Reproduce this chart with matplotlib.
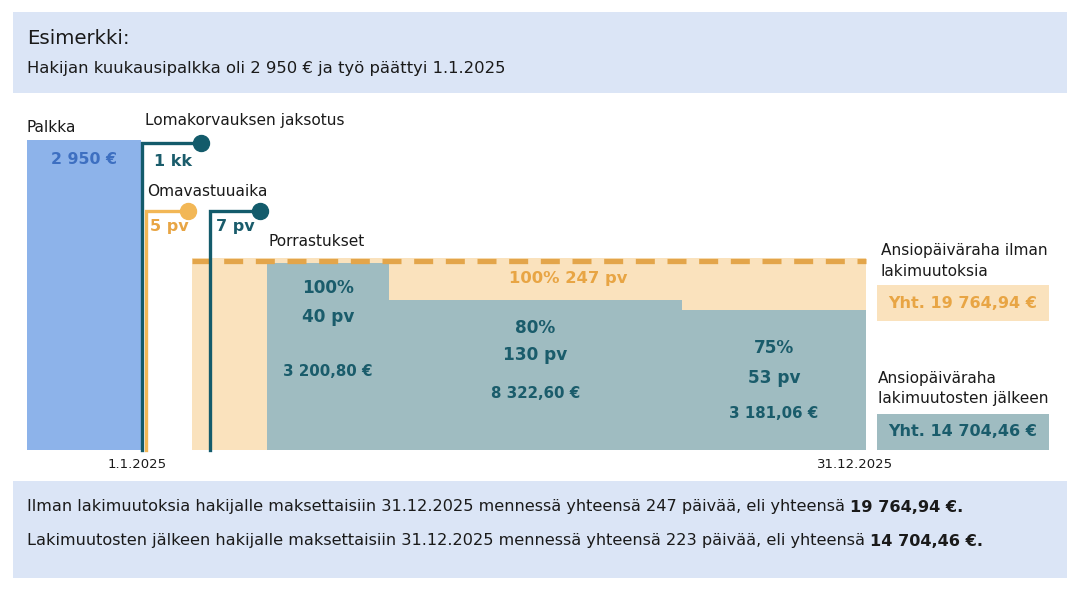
import matplotlib
matplotlib.use("Agg")
import matplotlib.pyplot as plt
from matplotlib.patches import Rectangle

# ---------------- data ----------------
title = "Esimerkki:"
subtitle = "Hakijan kuukausipalkka oli 2 950 € ja työ päättyi 1.1.2025"
salary = 2950
holiday_label = "1 kk"
waiting_days = 5
extra_days = 7
old_pct = 100
old_days = 247
step_pct = [100, 80, 75]
step_days = [40, 130, 53]
step_eur = [3200.80, 8322.60, 3181.06]
total_old = 19764.94
total_new = 14704.46
new_days = 223
dates = ["1.1.2025", "31.12.2025"]

def fi(v, dec=2):
    s = f"{v:,.{dec}f}"
    return s.replace(",", " ").replace(".", ",") + " €"

# ---------------- style ----------------
FONT = "DejaVu Sans"
plt.rcParams["font.family"] = [FONT]
BOX = "#dbe5f6"
BLUE_BAR = "#8db3ea"
BLUE_TXT = "#3d6fc1"
TEAL = "#135b6b"
TEAL_TXT = "#1a5c6b"
TEAL_FILL = "#9fbcc1"
ORANGE = "#f2b756"
ORANGE_TXT = "#e8a544"
ORANGE_FILL = "#fae2bd"
DASH = "#e3a54a"
BLACK = "#1a1a1a"
LBL = 11.1

fig = plt.figure(figsize=(10.8, 5.92), dpi=100)
ax = fig.add_axes([0, 0, 1, 1])
ax.set_xlim(0, 1080)
ax.set_ylim(592, 0)
ax.axis("off")

# header / footer boxes
ax.add_patch(Rectangle((13, 12), 1054, 81, color=BOX, lw=0))
ax.add_patch(Rectangle((13, 481), 1054, 97, color=BOX, lw=0))
ax.text(27, 39, title, fontsize=14.2, color=BLACK, va="center", fontweight="medium")
ax.text(27, 68, subtitle, fontsize=11.8, color=BLACK, va="center")

base = 450
scale = 1.87  # px per percent

# salary bar
ax.bar(27, 310, width=114, bottom=base - 310, align="edge", color=BLUE_BAR, lw=0)
ax.text(27, 127, "Palkka", fontsize=LBL, color=BLACK, va="center", fontweight="medium")
ax.text(84, 160, fi(salary, 0), fontsize=11.3, color=BLUE_TXT, va="center", ha="center", fontweight="bold")

def bracket(x0, x1, y, color, label, lx, ly, lcolor):
    ax.plot([x0, x0, x1], [base, y, y], color=color, lw=2.4, solid_joinstyle="miter", zorder=5)
    ax.plot([x1], [y], "o", color=color, ms=11.5, zorder=6)
    ax.text(lx, ly, label, fontsize=11.5, color=lcolor, va="center", fontweight="bold")

ax.text(145, 121, "Lomakorvauksen jaksotus", fontsize=LBL, color=BLACK, va="center", fontweight="medium")
ax.text(147, 192, "Omavastuuaika", fontsize=LBL, color=BLACK, va="center", fontweight="medium")

# old (no law change) area
old_left, old_right = 192, 866
old_h = old_pct * scale + 5
ax.bar(old_left, old_h, width=old_right - old_left, bottom=base - old_h, align="edge",
       color=ORANGE_FILL, lw=0, zorder=1)
ax.plot([old_left, old_right], [base - old_h + 2.5] * 2, color=DASH, lw=3.8,
        dashes=(3.6, 2.4), dash_capstyle="butt", zorder=3)
ax.text(568, 278, f"{old_pct}% {old_days} pv", fontsize=11.8, color=ORANGE_TXT,
        va="center", ha="center", fontweight="bold")

# steps
edges = [267, 389, 682, 866]
label_y = [(288, 317, 372), (328, 355, 393), (348, 378, 413)]
ax.text(268, 241, "Porrastukset", fontsize=LBL, color=BLACK, va="center", fontweight="medium")
for i, (p, d, e) in enumerate(zip(step_pct, step_days, step_eur)):
    h = p * scale
    ax.bar(edges[i], h, width=edges[i + 1] - edges[i], bottom=base - h, align="edge",
           color=TEAL_FILL, lw=0, zorder=2)
    cx = (edges[i] + edges[i + 1]) / 2
    y1, y2, y3 = label_y[i]
    ax.text(cx, y1, f"{p}%", fontsize=12.2, color=TEAL_TXT, ha="center", va="center", fontweight="bold")
    ax.text(cx, y2, f"{d} pv", fontsize=12.2, color=TEAL_TXT, ha="center", va="center", fontweight="bold")
    ax.text(cx, y3, fi(e), fontsize=10.8, color=TEAL_TXT, ha="center", va="center", fontweight="bold")

bracket(142, 201, 143, TEAL, holiday_label, 154, 161, TEAL_TXT)
bracket(146, 188, 211, ORANGE, f"{waiting_days} pv", 150, 227, ORANGE_TXT)
bracket(210, 260, 211, TEAL, f"{extra_days} pv", 216, 227, TEAL_TXT)

# totals
ax.text(881, 251, "Ansiopäiväraha ilman", fontsize=LBL, color=BLACK, va="center", fontweight="medium")
ax.text(881, 271, "lakimuutoksia", fontsize=LBL, color=BLACK, va="center", fontweight="medium")
ax.add_patch(Rectangle((877, 285), 172, 36, color=ORANGE_FILL, lw=0))
ax.text(963, 303, "Yht. " + fi(total_old), fontsize=11.5, color=ORANGE_TXT, ha="center", va="center", fontweight="bold")
ax.text(878, 379, "Ansiopäiväraha", fontsize=LBL, color=BLACK, va="center", fontweight="medium")
ax.text(878, 399, "lakimuutosten jälkeen", fontsize=LBL, color=BLACK, va="center", fontweight="medium")
ax.add_patch(Rectangle((877, 414), 172, 36, color=TEAL_FILL, lw=0))
ax.text(963, 432, "Yht. " + fi(total_new), fontsize=11.5, color=TEAL_TXT, ha="center", va="center", fontweight="bold")

# dates
ax.text(137, 464, dates[0], fontsize=9.5, color=BLACK, ha="center", va="center")
ax.text(855, 464, dates[1], fontsize=9.5, color=BLACK, ha="center", va="center")

# footer text
fig.canvas.draw()
r = fig.canvas.get_renderer()
def mixed(y, normal, bold):
    t = ax.text(27, y, normal, fontsize=11.6, color=BLACK, va="center")
    bb = t.get_window_extent(renderer=r)
    x = ax.transData.inverted().transform((bb.x1, bb.y0))[0]
    ax.text(x, y, bold, fontsize=11.6, color=BLACK, va="center", fontweight="bold")

mixed(507, f"Ilman lakimuutoksia hakijalle maksettaisiin {dates[1]} mennessä yhteensä {old_days} päivää, eli yhteensä ",
      fi(total_old) + ".")
mixed(541, f"Lakimuutosten jälkeen hakijalle maksettaisiin {dates[1]} mennessä yhteensä {new_days} päivää, eli yhteensä ",
      fi(total_new) + ".")

fig.savefig("out.png", dpi=100)
